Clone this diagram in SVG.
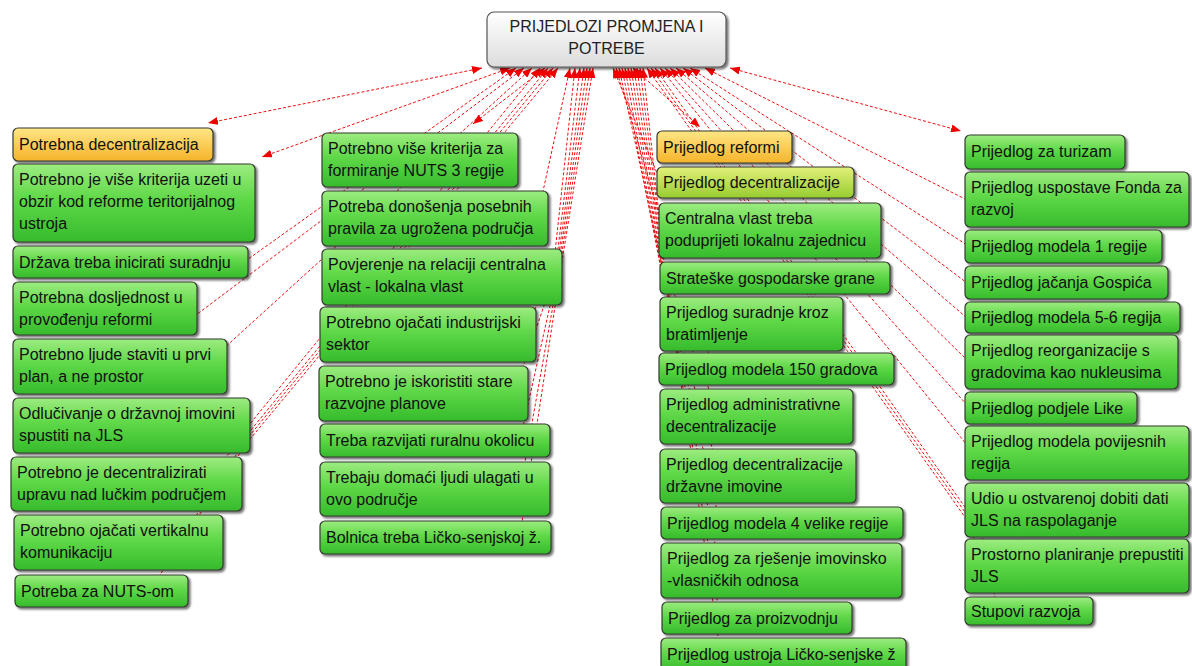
<svg xmlns="http://www.w3.org/2000/svg" width="1192" height="666" viewBox="0 0 1192 666">
<defs>
<linearGradient id="gGreen" x1="0" y1="0" x2="0" y2="1">
<stop offset="0" stop-color="#9dec80"/><stop offset="0.45" stop-color="#5fd848"/><stop offset="1" stop-color="#36bb2c"/>
</linearGradient>
<linearGradient id="gOrange" x1="0" y1="0" x2="0" y2="1">
<stop offset="0" stop-color="#ffe684"/><stop offset="1" stop-color="#f5b42a"/>
</linearGradient>
<linearGradient id="gYG" x1="0" y1="0" x2="0" y2="1">
<stop offset="0" stop-color="#e2f07a"/><stop offset="1" stop-color="#97cc30"/>
</linearGradient>
<linearGradient id="gGray" x1="0" y1="0" x2="0" y2="1">
<stop offset="0" stop-color="#ffffff"/><stop offset="1" stop-color="#dcdcdc"/>
</linearGradient>
<filter id="sh" x="-10%" y="-20%" width="125%" height="160%">
<feDropShadow dx="2" dy="2" stdDeviation="1.2" flood-color="#000" flood-opacity="0.55"/>
</filter>
<marker id="ah" viewBox="0 0 10 8" refX="10" refY="4" markerWidth="10" markerHeight="8" markerUnits="userSpaceOnUse" orient="auto-start-reverse">
<path d="M0,0 L10,4 L0,8 z" fill="#f00000"/>
</marker>
<style>
.c{fill:none;stroke:#f01010;stroke-width:1;stroke-dasharray:3 2;marker-start:url(#ah)}
.b{marker-end:url(#ah)}
.n rect{stroke:#333a30;stroke-width:1.2;filter:url(#sh)}
.gr rect{fill:url(#gGreen)}
.or rect{fill:url(#gOrange)}
.yg rect{fill:url(#gYG)}
.ce rect{fill:url(#gGray);stroke:#555}
text{font-family:"Liberation Sans",Arial,sans-serif;font-size:16px;fill:#111}
.ce text{fill:#222}
</style>
</defs>
<rect width="1192" height="666" fill="#fff"/>
<g id="connectors">
<path class="c b" d="M482,68 L208,123"/>
<path class="c b" d="M510,68 L262,157"/>
<path class="c" d="M516,68 L244,262"/>
<path class="c" d="M524,68 L192,318"/>
<path class="c" d="M532,68 L222,350"/>
<path class="c" d="M540,68 L245,430"/>
<path class="c" d="M548,68 L246,436 L200,484"/>
<path class="c" d="M553,68 L246,440 L180,540"/>
<path class="c" d="M558,68 L246,444 L150,590"/>
<path class="c b" d="M545,68 L473,124"/>
<path class="c" d="M570,68 L540,205"/>
<path class="c" d="M575,68 L554,262"/>
<path class="c" d="M580,68 L556,265 L525,330"/>
<path class="c" d="M584,68 L557,268 L515,390"/>
<path class="c" d="M587,68 L558,270 L520,440"/>
<path class="c" d="M590,68 L559,272 L520,490"/>
<path class="c" d="M593,68 L560,274 L520,535"/>
<path class="c b" d="M633,68 L700,127"/>
<path class="c" d="M613,68 L662,185"/>
<path class="c" d="M616,68 L662,225"/>
<path class="c" d="M619,68 L664,275"/>
<path class="c" d="M622,68 L664,285 L700,320"/>
<path class="c" d="M625,68 L664,285 L720,370"/>
<path class="c" d="M628,68 L665,286 L720,415"/>
<path class="c" d="M631,68 L665,286 L720,475"/>
<path class="c" d="M634,68 L666,287 L720,523"/>
<path class="c" d="M637,68 L666,287 L720,570"/>
<path class="c" d="M640,68 L667,288 L720,618"/>
<path class="c" d="M643,68 L667,288 L720,650"/>
<path class="c b" d="M730,68 L961,131"/>
<path class="c" d="M705,68 L967,200"/>
<path class="c" d="M690,68 L967,245"/>
<path class="c" d="M683,68 L967,283"/>
<path class="c" d="M676,68 L967,318"/>
<path class="c" d="M670,68 L967,360"/>
<path class="c" d="M665,68 L967,405"/>
<path class="c" d="M660,68 L967,445"/>
<path class="c" d="M655,68 L967,510"/>
<path class="c" d="M651,68 L967,515 L1000,565"/>
<path class="c" d="M647,68 L967,520 L1000,610"/>
</g>
<g id="central" class="n ce"><rect x="487" y="12" width="239" height="55" rx="7"/><text x="606.5" y="32" text-anchor="middle">PRIJEDLOZI PROMJENA I</text><text x="606.5" y="54" text-anchor="middle">POTREBE</text></g>

<g id="n1" class="n or"><rect x="13" y="128" width="200" height="33" rx="5"/><text x="19" y="150">Potrebna decentralizacija</text></g>
<g id="n2" class="n gr"><rect x="13" y="164" width="242" height="78" rx="5"/><text x="19" y="185">Potrebno je više kriterija uzeti u</text><text x="19" y="207">obzir kod reforme teritorijalnog</text><text x="19" y="229">ustroja</text></g>
<g id="n3" class="n gr"><rect x="13" y="246" width="235" height="32" rx="5"/><text x="19" y="268">Država treba inicirati suradnju</text></g>
<g id="n4" class="n gr"><rect x="13" y="282" width="184" height="53" rx="5"/><text x="19" y="303">Potrebna dosljednost u</text><text x="19" y="325">provođenju reformi</text></g>
<g id="n5" class="n gr"><rect x="13" y="339" width="214" height="55" rx="5"/><text x="19" y="360">Potrebno ljude staviti u prvi</text><text x="19" y="382">plan, a ne prostor</text></g>
<g id="n6" class="n gr"><rect x="13" y="398" width="237" height="55" rx="5"/><text x="19" y="419">Odlučivanje o državnoj imovini</text><text x="19" y="441">spustiti na JLS</text></g>
<g id="n7" class="n gr"><rect x="11" y="457" width="231" height="54" rx="5"/><text x="17" y="478">Potrebno je decentralizirati</text><text x="17" y="500">upravu nad lučkim područjem</text></g>
<g id="n8" class="n gr"><rect x="14" y="515" width="209" height="55" rx="5"/><text x="20" y="536">Potrebno ojačati vertikalnu</text><text x="20" y="558">komunikaciju</text></g>
<g id="n9" class="n gr"><rect x="15" y="575" width="173" height="32" rx="5"/><text x="21" y="597">Potreba za NUTS-om</text></g>

<g id="m1" class="n gr"><rect x="322" y="133" width="196" height="54" rx="5"/><text x="328" y="154">Potrebno više kriterija za</text><text x="328" y="176">formiranje NUTS 3 regije</text></g>
<g id="m2" class="n gr"><rect x="322" y="191" width="226" height="55" rx="5"/><text x="328" y="212">Potreba donošenja posebnih</text><text x="328" y="234">pravila za ugrožena područja</text></g>
<g id="m3" class="n gr"><rect x="322" y="249" width="240" height="56" rx="5"/><text x="328" y="270">Povjerenje na relaciji centralna</text><text x="328" y="292">vlast - lokalna vlast</text></g>
<g id="m4" class="n gr"><rect x="320" y="307" width="216" height="55" rx="5"/><text x="326" y="328">Potrebno ojačati industrijski</text><text x="326" y="350">sektor</text></g>
<g id="m5" class="n gr"><rect x="319" y="366" width="209" height="55" rx="5"/><text x="325" y="387">Potrebno je iskoristiti stare</text><text x="325" y="409">razvojne planove</text></g>
<g id="m6" class="n gr"><rect x="320" y="424" width="230" height="33" rx="5"/><text x="326" y="446">Treba razvijati ruralnu okolicu</text></g>
<g id="m7" class="n gr"><rect x="320" y="462" width="230" height="54" rx="5"/><text x="326" y="483">Trebaju domaći ljudi ulagati u</text><text x="326" y="505">ovo područje</text></g>
<g id="m8" class="n gr"><rect x="320" y="521" width="231" height="33" rx="5"/><text x="326" y="543">Bolnica treba Ličko-senjskoj ž.</text></g>

<g id="p1" class="n or"><rect x="657" y="131" width="135" height="32" rx="5"/><text x="663" y="153">Prijedlog reformi</text></g>
<g id="p2" class="n yg"><rect x="657" y="167" width="197" height="31" rx="5"/><text x="663" y="188">Prijedlog decentralizacije</text></g>
<g id="p3" class="n gr"><rect x="659" y="203" width="222" height="55" rx="5"/><text x="665" y="224">Centralna vlast treba</text><text x="665" y="246">poduprijeti lokalnu zajednicu</text></g>
<g id="p4" class="n gr"><rect x="660" y="262" width="230" height="32" rx="5"/><text x="666" y="284">Strateške gospodarske grane</text></g>
<g id="p5" class="n gr"><rect x="660" y="297" width="183" height="54" rx="5"/><text x="666" y="318">Prijedlog suradnje kroz</text><text x="666" y="340">bratimljenje</text></g>
<g id="p6" class="n gr"><rect x="659" y="353" width="235" height="32" rx="5"/><text x="665" y="375">Prijedlog modela 150 gradova</text></g>
<g id="p7" class="n gr"><rect x="660" y="389" width="193" height="55" rx="5"/><text x="666" y="410">Prijedlog administrativne</text><text x="666" y="432">decentralizacije</text></g>
<g id="p8" class="n gr"><rect x="660" y="449" width="196" height="54" rx="5"/><text x="666" y="470">Prijedlog decentralizacije</text><text x="666" y="492">državne imovine</text></g>
<g id="p9" class="n gr"><rect x="661" y="507" width="242" height="32" rx="5"/><text x="667" y="529">Prijedlog modela 4 velike regije</text></g>
<g id="p10" class="n gr"><rect x="661" y="543" width="241" height="55" rx="5"/><text x="667" y="564">Prijedlog za rješenje imovinsko</text><text x="667" y="586">-vlasničkih odnosa</text></g>
<g id="p11" class="n gr"><rect x="662" y="602" width="190" height="32" rx="5"/><text x="668" y="624">Prijedlog za proizvodnju</text></g>
<g id="p12" class="n gr"><rect x="661" y="638" width="245" height="34" rx="5"/><text x="667" y="660">Prijedlog ustroja Ličko-senjske ž</text></g>

<g id="q1" class="n gr"><rect x="965" y="135" width="160" height="34" rx="5"/><text x="971" y="157">Prijedlog za turizam</text></g>
<g id="q2" class="n gr"><rect x="965" y="172" width="224" height="55" rx="5"/><text x="971" y="193">Prijedlog uspostave Fonda za</text><text x="971" y="215">razvoj</text></g>
<g id="q3" class="n gr"><rect x="965" y="230" width="197" height="33" rx="5"/><text x="971" y="252">Prijedlog modela 1 regije</text></g>
<g id="q4" class="n gr"><rect x="965" y="266" width="203" height="33" rx="5"/><text x="971" y="288">Prijedlog jačanja Gospića</text></g>
<g id="q5" class="n gr"><rect x="965" y="302" width="215" height="31" rx="5"/><text x="971" y="323">Prijedlog modela 5-6 regija</text></g>
<g id="q6" class="n gr"><rect x="965" y="335" width="213" height="54" rx="5"/><text x="971" y="356">Prijedlog reorganizacije s</text><text x="971" y="378">gradovima kao nukleusima</text></g>
<g id="q7" class="n gr"><rect x="965" y="392" width="172" height="32" rx="5"/><text x="971" y="414">Prijedlog podjele Like</text></g>
<g id="q8" class="n gr"><rect x="965" y="426" width="224" height="54" rx="5"/><text x="971" y="447">Prijedlog modela povijesnih</text><text x="971" y="469">regija</text></g>
<g id="q9" class="n gr"><rect x="965" y="483" width="224" height="54" rx="5"/><text x="971" y="504">Udio u ostvarenoj dobiti dati</text><text x="971" y="526">JLS na raspolaganje</text></g>
<g id="q10" class="n gr"><rect x="965" y="539" width="224" height="54" rx="5"/><text x="971" y="560">Prostorno planiranje prepustiti</text><text x="971" y="582">JLS</text></g>
<g id="q11" class="n gr"><rect x="965" y="597" width="128" height="28" rx="5"/><text x="971" y="617">Stupovi razvoja</text></g>
</svg>
